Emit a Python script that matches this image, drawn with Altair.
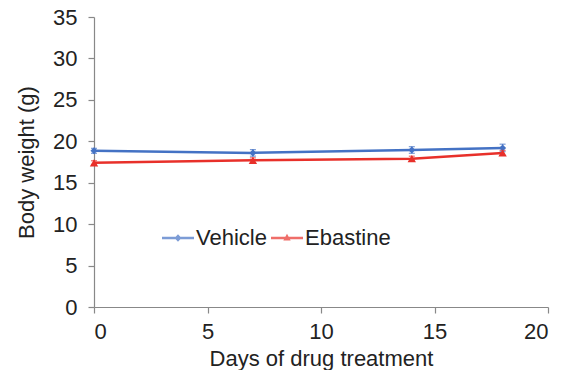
import altair as alt
import pandas as pd

days = [0, 7, 14, 18]
vehicle = [18.85, 18.6, 18.95, 19.2]
vehicle_err = [0.3, 0.4, 0.4, 0.45]
ebastine = [17.4, 17.7, 17.9, 18.6]
ebastine_err = [0.25, 0.3, 0.3, 0.3]
groups = ["Vehicle", "Ebastine"]
colors = ["#4472C4", "#E8302A"]

rows = []
for g, vals, errs in [("Vehicle", vehicle, vehicle_err), ("Ebastine", ebastine, ebastine_err)]:
    for d, v, e in zip(days, vals, errs):
        rows.append({"day": d, "weight": v, "lo": v - e, "hi": v + e, "group": g})
df = pd.DataFrame(rows)

FONT = "Liberation Sans"
xscale = alt.Scale(domain=[0, 20], nice=False)
yscale = alt.Scale(domain=[0, 35], nice=False)
cscale = alt.Scale(domain=groups, range=colors)
color = alt.Color("group:N", scale=cscale)

x = alt.X("day:Q", scale=xscale,
          axis=alt.Axis(title="Days of drug treatment", values=[0, 5, 10, 15, 20], grid=False))
y = alt.Y("weight:Q", scale=yscale,
          axis=alt.Axis(title="Body weight (g)", values=[0, 5, 10, 15, 20, 25, 30, 35], grid=False))

base = alt.Chart(df)
lines = base.mark_line(strokeWidth=2.5).encode(x=x, y=y, color=color, detail="group:N")
err = base.mark_rule(strokeWidth=1.2).encode(x="day:Q", y="lo:Q", y2="hi:Q", color=color)
cap_lo = base.mark_tick(orient="horizontal", size=6, thickness=1.2).encode(x="day:Q", y="lo:Q", color=color)
cap_hi = base.mark_tick(orient="horizontal", size=6, thickness=1.2).encode(x="day:Q", y="hi:Q", color=color)
pts_v = base.transform_filter(alt.datum.group == "Vehicle").mark_point(
    filled=True, opacity=1, size=50, shape="diamond").encode(x="day:Q", y="weight:Q", color=color)
pts_e = base.transform_filter(alt.datum.group == "Ebastine").mark_point(
    filled=True, opacity=1, size=70, shape="triangle-up").encode(x="day:Q", y="weight:Q", color=color)

legend_paths = [
    "M-1,-0.085L1,-0.085L1,0.085L-1,0.085Z M0,-0.24L0.22,0L0,0.24L-0.22,0Z",
    "M-1,-0.085L1,-0.085L1,0.085L-1,0.085Z M0,-0.26L0.23,0.15L-0.23,0.15Z",
]
leg_opts = dict(
    title=None, orient="none", legendX=68, legendY=205, direction="horizontal",
    symbolSize=1024, labelFontSize=22, labelFont=FONT, labelColor="#222222",
    labelOffset=2, columnPadding=4, symbolStrokeWidth=0, symbolOpacity=1,
)
leg = base.transform_filter("false").mark_point(filled=True, opacity=1).encode(
    x="day:Q", y="weight:Q",
    color=alt.Color("group:N", scale=cscale, legend=alt.Legend(**leg_opts)),
    shape=alt.Shape("group:N", scale=alt.Scale(domain=groups, range=legend_paths), legend=alt.Legend(**leg_opts)),
)

chart = alt.layer(lines, err, cap_lo, cap_hi, pts_v, pts_e, leg).properties(
    width=454, height=290,
    autosize=alt.AutoSizeParams(type="none"),
    padding={"left": 86, "top": 9, "right": 12, "bottom": 63},
).configure_view(stroke=None).configure_axis(
    domainColor="#888888", tickColor="#888888", domainWidth=1.2, tickWidth=1.2, tickSize=6,
    labelFont=FONT, titleFont=FONT, labelFontSize=22, titleFontSize=22,
    labelColor="#222222", titleColor="#222222", titleFontWeight="normal",
    labelPadding=8,
).configure_axisY(labelPadding=11, titlePadding=14).configure_axisX(titlePadding=6)

chart.save("out.html", embed_options={"renderer": "svg", "actions": False})
